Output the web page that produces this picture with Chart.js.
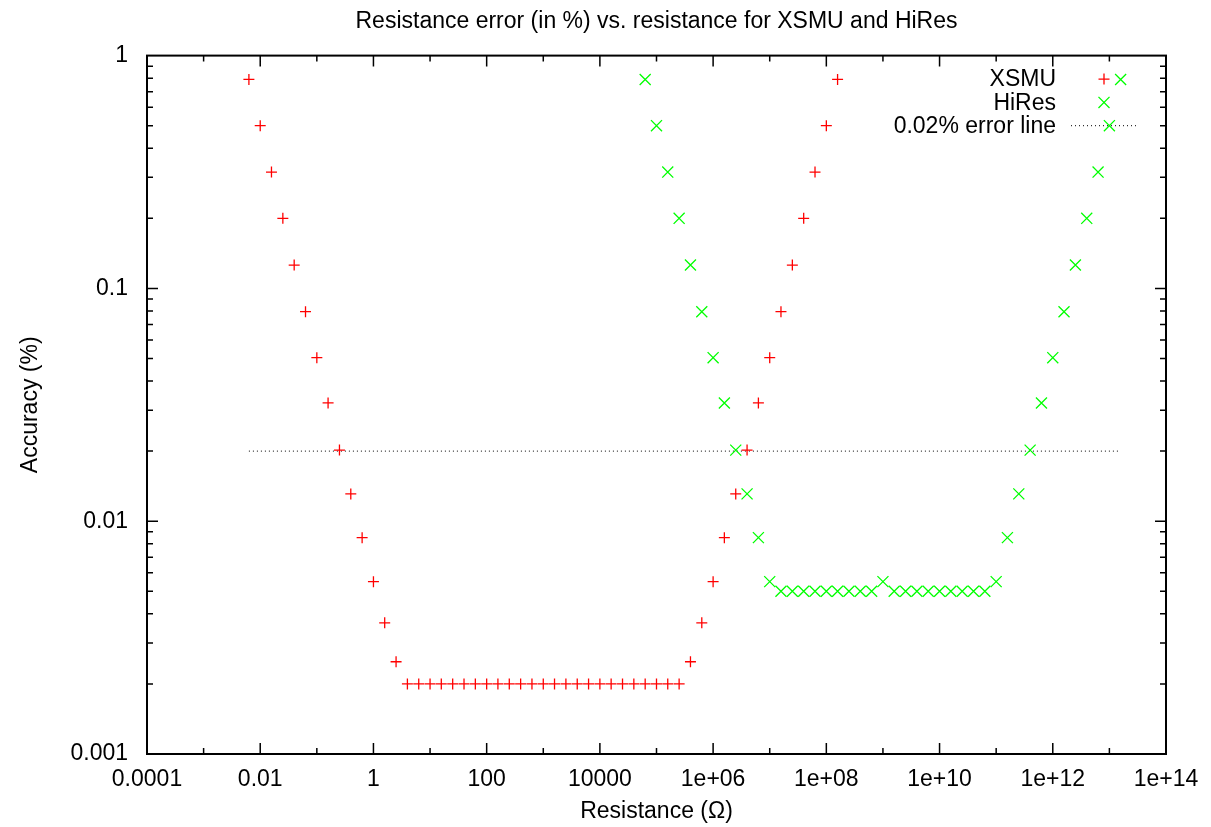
<!DOCTYPE html>
<html>
<head>
<meta charset="utf-8">
<script src="https://cdn.jsdelivr.net/npm/chart.js@4.4.1/dist/chart.umd.min.js"></script>
<style>
  body { margin: 0; background: #fff; }
  #chart { display: block; }
</style>
</head>
<body>
<canvas id="chart" width="1211" height="827"></canvas>
<script>
// resistance values (ohm) and accuracy (%)
const xsmuR = [
  6.31e-3, 1e-2, 1.58e-2, 2.51e-2, 3.98e-2, 6.31e-2,
  1e-1, 1.58e-1, 2.51e-1, 3.98e-1, 6.31e-1,
  1, 1.58, 2.51, 3.98, 6.31,
  10, 15.8, 25.1, 39.8, 63.1,
  100, 158, 251, 398, 631,
  1e3, 1.58e3, 2.51e3, 3.98e3, 6.31e3,
  1e4, 1.58e4, 2.51e4, 3.98e4, 6.31e4,
  1e5, 1.58e5, 2.51e5, 3.98e5, 6.31e5,
  1e6, 1.58e6, 2.51e6, 3.98e6, 6.31e6,
  1e7, 1.58e7, 2.51e7, 3.98e7, 6.31e7,
  1e8, 1.58e8
];
const xsmuAcc = [
  0.79, 0.5, 0.316, 0.2, 0.126, 0.0794,
  0.0504, 0.0322, 0.0202, 0.0131, 0.0085,
  0.0055, 0.00366, 0.00249, 0.002, 0.002,
  0.002, 0.002, 0.002, 0.002, 0.002,
  0.002, 0.002, 0.002, 0.002, 0.002,
  0.002, 0.002, 0.002, 0.002, 0.002,
  0.002, 0.002, 0.002, 0.002, 0.002,
  0.002, 0.002, 0.002, 0.00249, 0.00366,
  0.0055, 0.0085, 0.0131, 0.0202, 0.0322,
  0.0504, 0.0794, 0.126, 0.2, 0.316,
  0.5, 0.79
];

const hiresR = [
  6.31e4, 1e5, 1.58e5, 2.51e5, 3.98e5, 6.31e5,
  1e6, 1.58e6, 2.51e6, 3.98e6, 6.31e6,
  1e7, 1.58e7, 2.51e7, 3.98e7, 6.31e7,
  1e8, 1.58e8, 2.51e8, 3.98e8, 6.31e8,
  1e9, 1.58e9, 2.51e9, 3.98e9, 6.31e9,
  1e10, 1.58e10, 2.51e10, 3.98e10, 6.31e10,
  1e11, 1.58e11, 2.51e11, 3.98e11, 6.31e11,
  1e12, 1.58e12, 2.51e12, 3.98e12, 6.31e12,
  1e13, 1.58e13
];
const hiresAcc = [
  0.79, 0.5, 0.316, 0.2, 0.126, 0.0794,
  0.0504, 0.0322, 0.0202, 0.0131, 0.0085,
  0.0055, 0.005, 0.005, 0.005, 0.005,
  0.005, 0.005, 0.005, 0.005, 0.005,
  0.0055, 0.005, 0.005, 0.005, 0.005,
  0.005, 0.005, 0.005, 0.005, 0.005,
  0.0055, 0.0085, 0.0131, 0.0202, 0.0322,
  0.0504, 0.0794, 0.126, 0.2, 0.316,
  0.5, 0.79
];

const errLineR = [6.31e-3, 1.58e13];
const errLineAcc = [0.02, 0.02];

const xTickValues = [1e-4, 1e-2, 1, 1e2, 1e4, 1e6, 1e8, 1e10, 1e12, 1e14];
const xTickLabels = ["0.0001", "0.01", "1", "100", "10000", "1e+06", "1e+08", "1e+10", "1e+12", "1e+14"];
const yTickValues = [0.001, 0.01, 0.1, 1];
const yTickLabels = ["0.001", "0.01", "0.1", "1"];

const FONT = "'Liberation Sans', Arial, Helvetica, sans-serif";
const FSIZE = 23;

function toPoints(xs, ys) {
  return xs.map((x, i) => ({ x: x, y: ys[i] }));
}

// gnuplot style frame, inward ticks and the legend inside the plot
const framePlugin = {
  id: 'frame',
  afterDraw: (chart) => {
    const { ctx, chartArea, scales } = chart;
    const { left, right, top, bottom } = chartArea;
    ctx.save();
    ctx.strokeStyle = '#000';
    ctx.lineWidth = 1.5;
    ctx.beginPath();
    for (let d = -4; d <= 14; d++) {
      const x = scales.x.getPixelForValue(Math.pow(10, d));
      const len = (d % 2 === 0) ? 11 : 6;
      ctx.moveTo(x, bottom); ctx.lineTo(x, bottom - len);
      ctx.moveTo(x, top); ctx.lineTo(x, top + len);
    }
    for (let d = -3; d < 0; d++) {
      for (let m = 1; m <= 9; m++) {
        const y = scales.y.getPixelForValue(m * Math.pow(10, d));
        const len = m === 1 ? 11 : 6;
        ctx.moveTo(left, y); ctx.lineTo(left + len, y);
        ctx.moveTo(right, y); ctx.lineTo(right - len, y);
      }
    }
    ctx.stroke();
    ctx.lineWidth = 2;
    ctx.strokeRect(left, top, right - left, bottom - top);

    // legend
    ctx.font = FSIZE + 'px ' + FONT;
    ctx.fillStyle = '#000';
    ctx.textAlign = 'right';
    ctx.textBaseline = 'middle';
    chart.data.datasets.forEach((ds, i) => {
      const y = top + 23.5 + i * 23.3;
      ctx.fillText(ds.label, right - 110, y + 1);
      const sx = right - 62;
      ctx.strokeStyle = ds.borderColor;
      ctx.lineWidth = 1.3;
      ctx.setLineDash([]);
      ctx.beginPath();
      if (ds.pointStyle === 'cross') {
        const r = ds.pointRadius;
        ctx.moveTo(sx - r, y); ctx.lineTo(sx + r, y);
        ctx.moveTo(sx, y - r); ctx.lineTo(sx, y + r);
      } else if (ds.pointStyle === 'crossRot') {
        const r = ds.pointRadius * Math.SQRT1_2;
        ctx.moveTo(sx - r, y - r); ctx.lineTo(sx + r, y + r);
        ctx.moveTo(sx - r, y + r); ctx.lineTo(sx + r, y - r);
      } else {
        ctx.lineWidth = ds.borderWidth;
        ctx.setLineDash(ds.borderDash);
        ctx.moveTo(right - 95, y); ctx.lineTo(right - 28, y);
      }
      ctx.stroke();
    });
    ctx.restore();
  }
};

new Chart(document.getElementById('chart'), {
  type: 'scatter',
  data: {
    datasets: [
      {
        label: 'XSMU',
        data: toPoints(xsmuR, xsmuAcc),
        pointStyle: 'cross',
        pointRadius: 5.5,
        pointBorderWidth: 1.3,
        borderColor: '#ff0000',
        backgroundColor: '#ff0000',
        showLine: false
      },
      {
        label: 'HiRes',
        data: toPoints(hiresR, hiresAcc),
        pointStyle: 'crossRot',
        pointRadius: 7.8,
        pointBorderWidth: 1.3,
        borderColor: '#00ff00',
        backgroundColor: '#00ff00',
        showLine: false
      },
      {
        label: '0.02% error line',
        data: toPoints(errLineR, errLineAcc),
        pointStyle: 'line',
        pointRadius: 0,
        borderColor: '#000000',
        borderWidth: 1,
        borderDash: [1, 3],
        showLine: true
      }
    ]
  },
  options: {
    responsive: false,
    animation: false,
    devicePixelRatio: 1,
    layout: { padding: { top: 0, right: 45, bottom: 0, left: 0 } },
    plugins: {
      legend: { display: false },
      tooltip: { enabled: false },
      title: {
        display: true,
        fullSize: false,
        text: 'Resistance error (in %) vs. resistance for XSMU and HiRes',
        color: '#000',
        font: { family: FONT, size: FSIZE, weight: 'normal' },
        padding: { top: 8, bottom: 20 }
      }
    },
    scales: {
      x: {
        type: 'logarithmic',
        position: 'bottom',
        min: 1e-4,
        max: 1e14,
        grid: { display: false, drawTicks: false },
        border: { display: false },
        afterBuildTicks: (scale) => { scale.ticks = xTickValues.map(v => ({ value: v })); },
        afterFit: (scale) => { scale.height = 73; },
        ticks: {
          color: '#000',
          font: { family: FONT, size: FSIZE },
          padding: 12,
          maxRotation: 0,
          autoSkip: false,
          callback: (value, index) => xTickLabels[index]
        },
        title: {
          display: true,
          text: 'Resistance (Ω)',
          color: '#000',
          font: { family: FONT, size: FSIZE },
          padding: { top: 0, bottom: 2 }
        }
      },
      y: {
        type: 'logarithmic',
        position: 'left',
        min: 0.001,
        max: 1,
        grid: { display: false, drawTicks: false },
        border: { display: false },
        afterBuildTicks: (scale) => { scale.ticks = yTickValues.map(v => ({ value: v })); },
        afterFit: (scale) => { scale.width = 147; },
        ticks: {
          color: '#000',
          font: { family: FONT, size: FSIZE },
          padding: 19,
          autoSkip: false,
          callback: (value, index) => yTickLabels[index]
        },
        title: {
          display: true,
          text: 'Accuracy (%)',
          color: '#000',
          font: { family: FONT, size: FSIZE },
          padding: { top: 17, bottom: 0 }
        }
      }
    }
  },
  plugins: [framePlugin]
});
</script>
</body>
</html>
